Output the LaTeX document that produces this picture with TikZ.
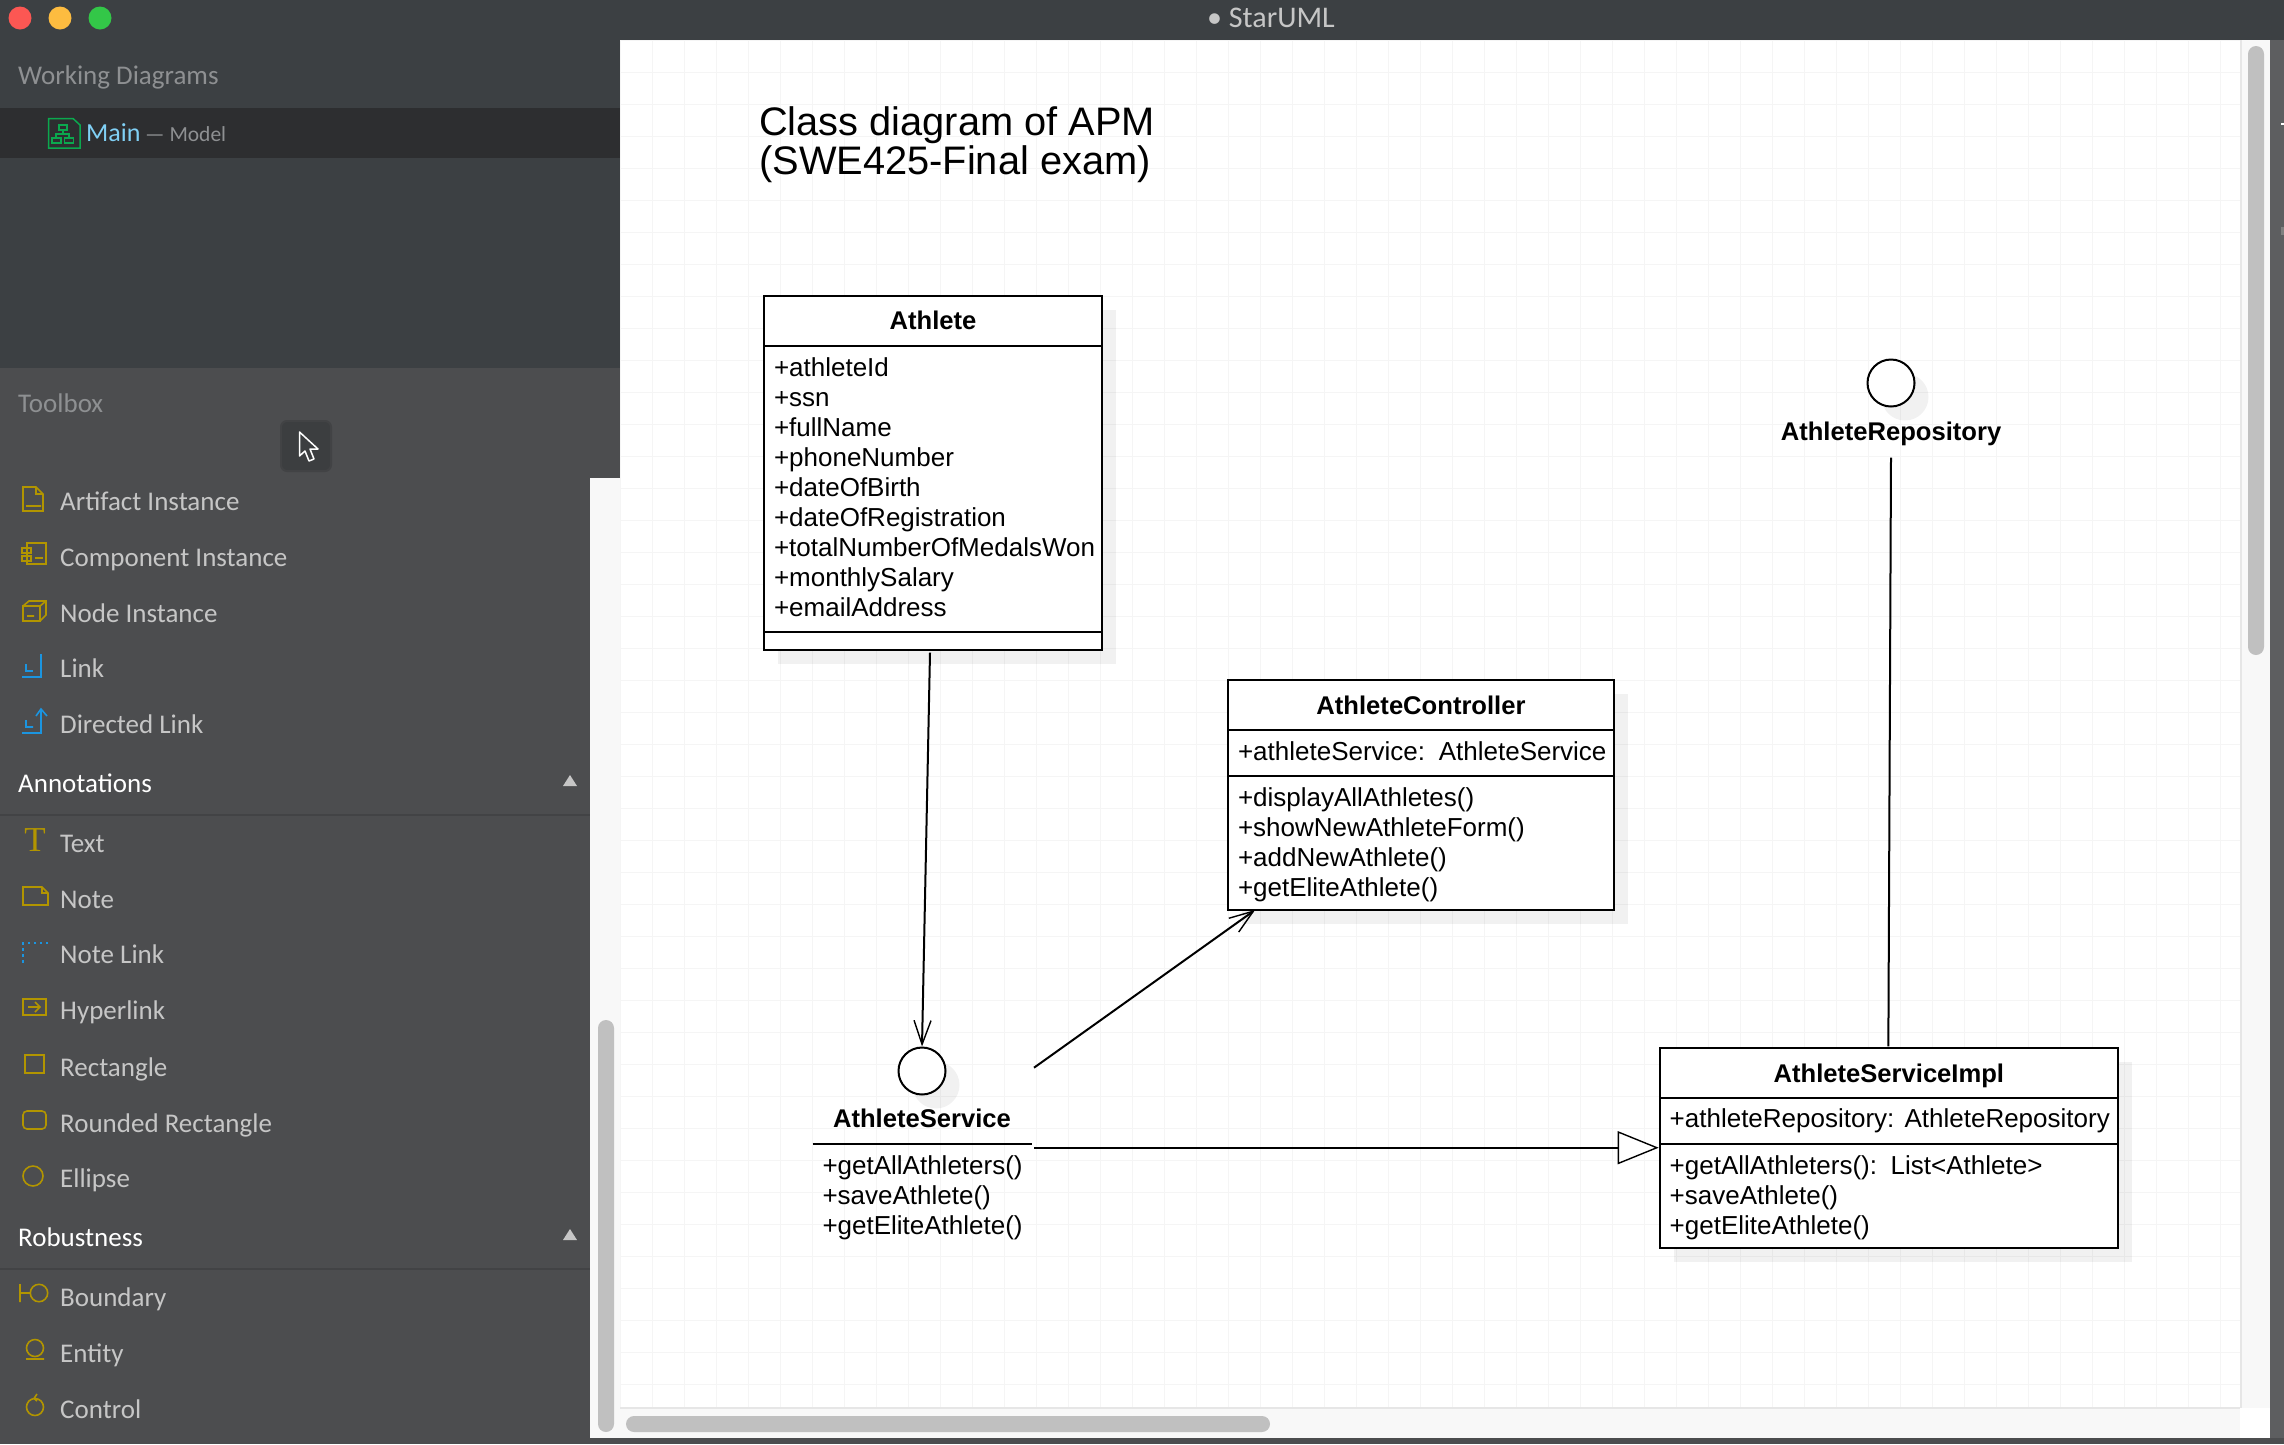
\documentclass[tikz,border=0pt]{standalone}
\usepackage{fontspec}
\setmainfont{Liberation Sans}
\newfontfamily\uifont{Carlito}
\newfontfamily\serifui{Liberation Serif}
\usetikzlibrary{arrows.meta, positioning, shadows}
\definecolor{barbg}{HTML}{3C4043}
\definecolor{rowdark}{HTML}{2D2E30}
\definecolor{toolbg}{HTML}{4C4D4F}
\definecolor{toolsep}{HTML}{424345}
\definecolor{btnfill}{HTML}{3C3E40}
\definecolor{mutedtext}{HTML}{8E9092}
\definecolor{itemtext}{HTML}{C6C6C6}
\definecolor{maintext}{HTML}{80D0F5}
\definecolor{icongold}{HTML}{B29500}
\definecolor{iconblue}{HTML}{1B95E0}
\definecolor{icongreen}{HTML}{0BA84E}
\definecolor{trackfill}{HTML}{F8F8F8}
\definecolor{thumbfill}{HTML}{C0C0C0}
\definecolor{edgeline}{HTML}{E6E6E6}
\definecolor{gridline}{HTML}{F5F5F5}
\definecolor{railfill}{HTML}{5D5E60}
\definecolor{lightred}{HTML}{FC5753}
\definecolor{lightyellow}{HTML}{FDBC40}
\definecolor{lightgreen}{HTML}{33C748}
\begin{document}
\begin{tikzpicture}[
  x=1pt, y=-1pt,
  node distance=0pt,
  classpart/.style ={draw=black, line width=2pt, fill=white, outer sep=0pt,
                     inner xsep=10pt, inner ysep=0pt, text width=#1, align=left,
                     font=\fontsize{26}{30}\selectfont,
                     general shadow={shadow xshift=14pt, shadow yshift=-14pt,
                                     draw=none, fill=black, fill opacity=.055}},
  classhead/.style ={classpart=#1, align=center, font=\fontsize{25.6}{30}\selectfont\bfseries,
                     text height=24pt, text depth=6pt},
  rows/.style      ={execute at begin node={\rule{0pt}{#1}}, execute at end node={\strut}},
  ifacecircle/.style={circle, draw=black, line width=2pt, fill=white, minimum size=47pt,
                     inner sep=0pt, general shadow={shadow xshift=14pt, shadow yshift=-14pt,
                                     draw=none, fill=black, fill opacity=.055}},
  ifacename/.style ={anchor=base, inner sep=0pt, font=\fontsize{25.6}{30}\selectfont\bfseries},
  ifaceops/.style  ={anchor=north west, inner xsep=10pt, inner ysep=0pt, outer sep=0pt,
                     text width=199.5pt, minimum height=102pt, align=left,
                     font=\fontsize{26}{30}\selectfont},
  dep/.style       ={-{Straight Barb[length=24pt, width=17pt, line width=1.4pt]}, line width=2pt},
  realize/.style   ={-{Triangle[open, fill=white, length=41pt, width=33pt, line width=1.4pt]}, line width=2pt},
  titletext/.style ={anchor=base west, inner sep=0pt, align=left,
                     font=\fontsize{39.8}{38.5}\selectfont},
  chrome/.style    ={anchor=base west, inner sep=0pt, font=\uifont\fontsize{27}{30}\selectfont},
  toolitem/.style  ={chrome, text=itemtext},
  toolhead/.style  ={chrome, text=white},
  goldicon/.style  ={draw=icongold, line width=1.6pt},
  blueicon/.style  ={draw=iconblue, line width=1.6pt},
]
\useasboundingbox (0,0) rectangle (2284,1444);

% window
\fill[white] (0,0) rectangle (2284,1444);
\fill[railfill] (2270,40) rectangle (2284,1438);
\fill[toolbg] (0,1438) rectangle (2284,1444);
\fill[white] (2281,123) rectangle (2284,125);
\fill[gray] (2281,227) rectangle (2284,235);
\fill[barbg] (0,0) rectangle (2284,40);
\fill[barbg] (0,40) rectangle (620,368);
\fill[rowdark] (0,108) rectangle (620,158);
\fill[toolbg] (0,368) rectangle (620,478);
\fill[toolbg] (0,478) rectangle (590,1438);
\draw[toolsep, line width=2pt] (0,815) -- (590,815);
\draw[toolsep, line width=2pt] (0,1269) -- (590,1269);
\draw[gridline, line width=1pt, shift={(620,40)}] (0,0) grid[step=32pt] (1620,1368);

% scroll bars
\fill[trackfill] (590,478) rectangle (620,1438);
\fill[trackfill] (620,1408) rectangle (2240,1438);
\fill[trackfill] (2240,40) rectangle (2270,1408);
\draw[edgeline, line width=2pt] (620,1408) -- (2240,1408);
\draw[edgeline, line width=2pt] (2241,40) -- (2241,1408);
\fill[thumbfill, rounded corners=8pt] (598,1020) rectangle (614,1432);
\fill[thumbfill, rounded corners=8pt] (2248,46) rectangle (2264,655);
\fill[thumbfill, rounded corners=8pt] (626,1416) rectangle (1270,1432);

% traffic lights
\fill[lightred] (20,18) circle[radius=11.5pt];
\fill[lightyellow] (60,18) circle[radius=11.5pt];
\fill[lightgreen] (100,18) circle[radius=11.5pt];
\node[chrome, text=itemtext, anchor=base, font=\uifont\fontsize{30}{30}\selectfont] (appTitle) at (1271,27) {• StarUML};

% working diagrams
\node[chrome, text=mutedtext] (workingLabel) at (18,84) {Working Diagrams};
\node[chrome, text=maintext, font=\uifont\fontsize{26}{30}\selectfont] (mainLabel) at (86,141) {Main};
\node[chrome, text=mutedtext, font=\uifont\fontsize{21.5}{30}\selectfont] (modelLabel) at (145,141) {— Model};
\draw[draw=icongreen, line width=1.5pt] (48.5,118.5) -- (73,118.5) -- (80,125) -- (80,148) -- (48.5,148) -- cycle;
\draw[draw=icongreen, line width=1.5pt] (59,125) rectangle (67,130) (52,138) rectangle (61,143) (64.5,138) rectangle (73.5,143)
  (63,130) -- (63,134) (56,138) -- (56,134) -- (69,134) -- (69,138);

% toolbox
\node[chrome, text=mutedtext] (toolboxLabel) at (18,412) {Toolbox};
\node[draw=toolsep, line width=2pt, fill=btnfill, rounded corners=6pt, minimum width=50pt, minimum height=50pt] (cursorBtn) at (306,446) {};
\draw[white, line width=1.5pt, line join=round] (299.5,432) -- (299.5,456) -- (305,451) -- (309,461) -- (314,459) -- (310,449) -- (318,449) -- cycle;

\node[toolitem] (itemArtifact)  at (60,510.5)  {Artifact Instance};
\node[toolitem] (itemComponent) at (60,566.5)  {Component Instance};
\node[toolitem] (itemNode)      at (60,622.5)  {Node Instance};
\node[toolitem] (itemLink)      at (60,677.5)  {Link};
\node[toolitem] (itemDirected)  at (60,733.5)  {Directed Link};
\node[toolhead] (headAnnot)     at (18,792.5)  {Annotations};
\node[toolitem] (itemText)      at (60,852.5)  {Text};
\node[toolitem] (itemNote)      at (60,908.5)  {Note};
\node[toolitem] (itemNoteLink)  at (60,963.5)  {Note Link};
\node[toolitem] (itemHyper)     at (60,1019.5) {Hyperlink};
\node[toolitem] (itemRect)      at (60,1076.5) {Rectangle};
\node[toolitem] (itemRound)     at (60,1132.5) {Rounded Rectangle};
\node[toolitem] (itemEllipse)   at (60,1187.5) {Ellipse};
\node[toolhead] (headRobust)    at (18,1246.5) {Robustness};
\node[toolitem] (itemBoundary)  at (60,1306.5) {Boundary};
\node[toolitem] (itemEntity)    at (60,1362.5) {Entity};
\node[toolitem] (itemControl)   at (60,1418.5) {Control};

\fill[itemtext] (563,786) -- (577,786) -- (570,775) -- cycle;
\fill[itemtext] (563,1240) -- (577,1240) -- (570,1229) -- cycle;

\draw[goldicon] (23,487) -- (36,487) -- (43,494) -- (43,511) -- (23,511) -- cycle (36,487) -- (36,494) -- (43,494) (26,506) -- (41,506);
\draw[goldicon] (27,543) rectangle (46,564) (22,548) rectangle (31,553) (22,556) rectangle (31,561) (35,558) -- (43,558);
\draw[goldicon] (23,606) rectangle (40,621) (23,606) -- (29,601) -- (46,601) -- (46,615) -- (40,621) (40,606) -- (46,601) (27,616) -- (34,616);
\draw[blueicon] (41,654) -- (41,677) -- (22,677) (26,664) -- (26,671) -- (33,671);
\draw[blueicon] (41,709) -- (41,733) -- (22,733) (26,720) -- (26,727) -- (33,727) (36,716) -- (41,709) -- (47,716);
\node[anchor=base, inner sep=0pt, text=icongold, font=\serifui\fontsize{35}{35}\selectfont] (iconT) at (35,851) {T};
\draw[goldicon] (23,887) -- (42,887) -- (48,893) -- (48,905) -- (23,905) -- cycle (42,887) -- (42,893) -- (48,893);
\draw[blueicon, dash pattern=on 2.5pt off 3.5pt] (48,943) -- (23,943) -- (23,963);
\draw[goldicon] (23,999) rectangle (46,1015) (28,1007) -- (40,1007) (35,1002) -- (40,1007) -- (35,1012);
\draw[goldicon] (25,1055) rectangle (44,1073);
\draw[goldicon, rounded corners=4pt] (23,1111) rectangle (46,1129);
\draw[goldicon] (33,1176) circle[radius=10pt];
\draw[goldicon] (20,1284) -- (20,1302) (20,1293) -- (30,1293) (39,1293) circle[radius=8.7pt];
\draw[goldicon] (35,1348) circle[radius=8.5pt] (26,1359) -- (44,1359);
\draw[goldicon] (35,1407) circle[radius=8.5pt] (37,1394) -- (34,1398.5) -- (37,1401);

% diagram
\node[titletext] (diagramTitle) at (759,174) {Class diagram of APM\\(SWE425-Final exam)};

\node[classhead=318pt, anchor=north west, minimum height=50.3pt] (athleteHead) at (764,295.7) {Athlete};
\node[classpart=318pt, rows=24pt, minimum height=285.7pt, below=of athleteHead] (athleteAttrs)
  {+athleteId\\+ssn\\+fullName\\+phoneNumber\\+dateOfBirth\\+dateOfRegistration\\+totalNumberOfMedalsWon\\+monthlySalary\\+emailAddress};
\node[classpart=318pt, minimum height=18pt, below=of athleteAttrs] (athleteOps) {};

\node[classhead=366pt, anchor=north west, minimum height=50pt] (controllerHead) at (1228,680) {AthleteController};
\node[classpart=366pt, rows=23pt, minimum height=46pt, below=of controllerHead] (controllerAttrs) {+athleteService:~\kern5pt AthleteService};
\node[classpart=366pt, rows=25pt, minimum height=134pt, below=of controllerAttrs] (controllerOps)
  {+displayAllAthletes()\\+showNewAthleteForm()\\+addNewAthlete()\\+getEliteAthlete()};

\node[classhead=438.3pt, anchor=north west, minimum height=49.4pt] (implHead) at (1659.7,1048.3) {AthleteServiceImpl};
\node[classpart=438.3pt, rows=23pt, minimum height=46pt, below=of implHead] (implAttrs) {+athleteRepository:~\kern1.5pt AthleteRepository};
\node[classpart=438.3pt, rows=26pt, minimum height=104.3pt, below=of implAttrs] (implOps)
  {+getAllAthleters():~\kern5pt List<Athlete>\\+saveAthlete()\\+getEliteAthlete()};

\node[ifacecircle] (serviceCircle) at (922,1071) {};
\node[ifacename] (serviceName) at (922,1127.5) {AthleteService};
\node[ifaceops, rows=28pt] (serviceOps) at (812.5,1143.7) {+getAllAthleters()\\+saveAthlete()\\+getEliteAthlete()};
\draw[line width=2pt] (serviceOps.north west) -- (serviceOps.north east);

\node[ifacecircle] (repoCircle) at (1891,383) {};
\node[ifacename] (repoName) at (1891,440) {AthleteRepository};

\draw[dep] ([xshift=-3pt,yshift=-3pt]athleteOps.south) -- (serviceCircle.north);
\draw[dep] ([xshift=2pt,yshift=76pt]serviceOps.north east) -- ([xshift=27pt]controllerOps.south west);
\draw[realize] ([xshift=2pt,yshift=-4pt]serviceOps.north east) -- ([xshift=-1pt,yshift=-4pt]implOps.north west);
\draw[line width=2pt] ([yshift=-12pt]repoName.south) -- ([xshift=-0.5pt,yshift=2pt]implHead.north);

\end{tikzpicture}
\end{document}
